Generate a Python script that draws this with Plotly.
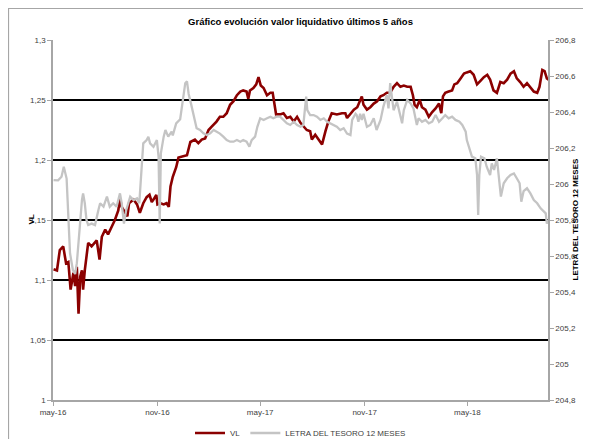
import pandas as pd
import plotly.graph_objects as go

# ---------------- data ----------------
start_date = "2016-05-01"

vl_days = [1, 7, 12, 18, 23, 27, 31, 36, 39, 42,
           45, 48, 51, 53, 56, 62, 68, 74, 77, 82,
           86, 92, 97, 103, 109, 115, 118, 121, 126, 131,
           134, 142, 148, 153, 159, 165, 170, 174, 177, 182,
           184, 189, 195, 200, 204, 207, 211, 217, 221, 230,
           236, 242, 250, 256, 262, 268, 274, 280, 288, 294,
           300, 306, 312, 318, 324, 330, 335, 341, 344, 347,
           353, 358, 362, 366, 371, 377, 383, 387, 390, 393,
           400, 406, 412, 418, 424, 430, 436, 441, 447, 453,
           456, 462, 468, 474, 480, 485, 491, 500, 509, 515,
           518, 524, 530, 536, 541, 544, 547, 553, 559, 565,
           571, 577, 582, 588, 594, 600, 606, 612, 618, 624,
           630, 634, 637, 641, 646, 650, 656, 662, 668, 674,
           680, 684, 687, 691, 697, 703, 707, 712, 718, 724,
           729, 735, 741, 747, 753, 759, 765, 770, 776, 782,
           788, 794, 800, 806, 812, 817, 823, 829, 835, 840,
           847, 853, 857, 862, 866, 870, 873]

vl_values = [1.109, 1.108, 1.125, 1.128, 1.114, 1.115, 1.092, 1.106, 1.095, 1.111,
             1.072, 1.103, 1.108, 1.092, 1.108, 1.131, 1.128, 1.131, 1.133, 1.117,
             1.136, 1.142, 1.138, 1.144, 1.150, 1.158, 1.168, 1.161, 1.157, 1.153,
             1.164, 1.167, 1.163, 1.156, 1.164, 1.169, 1.171, 1.165, 1.167, 1.171,
             1.163, 1.164, 1.163, 1.164, 1.161, 1.178, 1.186, 1.194, 1.202, 1.203,
             1.204, 1.215, 1.217, 1.214, 1.217, 1.218, 1.225, 1.228, 1.232, 1.236,
             1.236, 1.239, 1.246, 1.249, 1.254, 1.257, 1.258, 1.257, 1.251, 1.258,
             1.260, 1.263, 1.269, 1.262, 1.260, 1.254, 1.256, 1.256, 1.247, 1.238,
             1.238, 1.239, 1.235, 1.236, 1.232, 1.236, 1.231, 1.228, 1.225, 1.224,
             1.217, 1.221, 1.217, 1.213, 1.224, 1.232, 1.239, 1.238, 1.239, 1.239,
             1.235, 1.239, 1.242, 1.244, 1.250, 1.253, 1.246, 1.242, 1.244, 1.247,
             1.249, 1.253, 1.254, 1.256, 1.256, 1.261, 1.264, 1.261, 1.262, 1.261,
             1.261, 1.254, 1.246, 1.244, 1.250, 1.244, 1.242, 1.236, 1.240, 1.243,
             1.247, 1.239, 1.253, 1.256, 1.257, 1.258, 1.263, 1.264, 1.268, 1.272,
             1.273, 1.274, 1.271, 1.263, 1.266, 1.269, 1.271, 1.267, 1.258, 1.256,
             1.265, 1.264, 1.267, 1.272, 1.274, 1.268, 1.265, 1.261, 1.264, 1.261,
             1.257, 1.256, 1.261, 1.275, 1.274, 1.268, 1.267]

letra_days = [1, 9, 15, 19, 24, 27, 30, 35, 39, 42,
              45, 48, 51, 53, 56, 59, 62, 68, 74, 80,
              83, 89, 95, 100, 106, 112, 118, 121, 125, 129,
              136, 142, 148, 152, 157, 159, 165, 168, 171, 177,
              183, 186, 188, 190, 195, 198, 203, 209, 211, 217,
              224, 229, 233, 236, 239, 243, 248, 253, 259, 265,
              271, 277, 283, 288, 294, 300, 306, 312, 318, 324,
              330, 335, 341, 346, 350, 356, 360, 365, 371, 377,
              383, 388, 394, 400, 406, 412, 418, 424, 430, 436,
              441, 446, 448, 453, 459, 465, 471, 477, 483, 489,
              494, 500, 506, 512, 518, 524, 527, 533, 535, 538,
              541, 544, 547, 553, 559, 565, 570, 574, 577, 582,
              588, 591, 594, 597, 600, 606, 612, 615, 618, 624,
              630, 635, 641, 644, 650, 656, 662, 668, 674, 680,
              686, 691, 697, 703, 709, 716, 721, 727, 729, 734,
              738, 744, 747, 749, 751, 754, 760, 764, 770, 773,
              777, 782, 785, 789, 794, 800, 806, 812, 817, 822,
              825, 829, 835, 841, 847, 853, 859, 865, 868, 870,
              872]

letra_values = [206.022, 206.020, 206.040, 206.096, 206.030, 205.800, 205.615, 205.522, 205.500, 205.560,
                205.670, 205.820, 205.910, 205.948, 205.893, 205.800, 205.772, 205.780, 205.772, 205.856,
                205.893, 205.874, 205.930, 205.874, 205.893, 205.874, 205.948, 205.893, 205.780, 205.856,
                205.930, 205.911, 205.920, 205.893, 206.115, 206.226, 206.244, 206.263, 206.226, 206.207,
                206.244, 206.152, 205.780, 206.170, 206.263, 206.300, 206.263, 206.291, 206.270, 206.337,
                206.360, 206.485, 206.560, 206.570, 206.500, 206.448, 206.374, 206.310, 206.300, 206.282,
                206.272, 206.282, 206.300, 206.291, 206.280, 206.263, 206.244, 206.235, 206.235, 206.244,
                206.235, 206.244, 206.235, 206.207, 206.244, 206.263, 206.318, 206.365, 206.356, 206.365,
                206.374, 206.365, 206.374, 206.374, 206.356, 206.337, 206.328, 206.346, 206.328, 206.318,
                206.328, 206.485, 206.410, 206.383, 206.383, 206.374, 206.356, 206.365, 206.346, 206.337,
                206.328, 206.318, 206.300, 206.310, 206.280, 206.272, 206.356, 206.390, 206.383, 206.346,
                206.390, 206.356, 206.390, 206.318, 206.328, 206.365, 206.300, 206.328, 206.356, 206.430,
                206.494, 206.420, 206.560, 206.485, 206.410, 206.457, 206.383, 206.337, 206.410, 206.467,
                206.448, 206.420, 206.328, 206.365, 206.346, 206.356, 206.337, 206.346, 206.383, 206.346,
                206.365, 206.383, 206.365, 206.374, 206.356, 206.346, 206.328, 206.291, 206.244, 206.189,
                206.152, 206.143, 206.050, 205.828, 206.050, 206.152, 206.143, 206.096, 206.050, 206.115,
                206.078, 206.143, 206.060, 205.930, 206.004, 206.032, 206.050, 206.059, 206.032, 206.004,
                205.902, 205.960, 205.976, 205.948, 205.911, 205.893, 205.865, 205.846, 205.837, 205.780,
                205.800]

x_tick_dates = ["2016-05-01", "2016-11-01", "2017-05-01", "2017-11-01", "2018-05-01"]
x_tick_labels = ["may-16", "nov-16", "may-17", "nov-17", "may-18"]
x_end_date = "2018-09-20"

y1_ticks = [1.0, 1.05, 1.1, 1.15, 1.2, 1.25, 1.3]
y1_labels = ["1", "1,05", "1,1", "1,15", "1,2", "1,25", "1,3"]
y2_ticks = [204.8, 205.0, 205.2, 205.4, 205.6, 205.8, 206.0, 206.2, 206.4, 206.6, 206.8]
y2_labels = ["204,8", "205", "205,2", "205,4", "205,6", "205,8", "206", "206,2", "206,4", "206,6", "206,8"]

title_text = "Gráfico evolución valor liquidativo últimos 5 años"
y1_title = "VL"
y2_title = "LETRA DEL TESORO 12 MESES"

# ---------------- figure ----------------
base = pd.Timestamp(start_date)
vl_dates = [base + pd.Timedelta(days=d) for d in vl_days]
letra_dates = [base + pd.Timedelta(days=d) for d in letra_days]

# the page body adds an 8px margin, so the figure is drawn at (8, 8)
W, H = 583, 431
L, R, T, B = 45, 43, 32, 39
PW, PH = W - L - R, H - T - B


def px_x(px):  # page pixel x -> paper x
    return (px - 8 - L) / PW


def px_y(py):  # page pixel y -> paper y
    return (H - B - (py - 8)) / PH


FONT = "Liberation Sans, Arial, sans-serif"
TICKC = "#404040"
AXC = "#a6a6a6"
TICKFONT = dict(size=8, color=TICKC)

fig = go.Figure()
fig.add_trace(go.Scatter(x=vl_dates, y=vl_values, name="VL", mode="lines",
                         line=dict(color="#8b0000", width=2.6), yaxis="y"))
fig.add_trace(go.Scatter(x=letra_dates, y=letra_values, name="LETRA DEL TESORO 12 MESES",
                         mode="lines", line=dict(color="#c4c4c4", width=2.3), yaxis="y2"))

fig.update_layout(
    width=W, height=H,
    margin=dict(l=L, r=R, t=T, b=B, autoexpand=False),
    paper_bgcolor="white", plot_bgcolor="white",
    font=dict(family=FONT, size=8, color=TICKC),
    title=dict(text="<b>" + title_text + "</b>", x=0.5, xanchor="center",
               xref="paper", y=1 - (22 - 8) / H, yref="container", yanchor="middle",
               font=dict(size=9.5, color="#000000")),
    xaxis=dict(type="date", range=[start_date, x_end_date],
               tickvals=x_tick_dates, ticktext=x_tick_labels,
               showgrid=False, zeroline=False, showline=True, linecolor=AXC, linewidth=1.5,
               ticks="outside", ticklen=4, tickcolor=AXC, tickfont=TICKFONT),
    yaxis=dict(range=[1.0, 1.3], tickvals=y1_ticks, ticktext=y1_labels,
               showgrid=True, gridcolor="#000000", gridwidth=1.5,
               zeroline=False, showline=True, linecolor=AXC, linewidth=1.5,
               ticks="outside", ticklen=4, tickcolor=AXC, tickfont=TICKFONT),
    yaxis2=dict(range=[204.8, 206.8], tickvals=y2_ticks, ticktext=y2_labels,
                overlaying="y", side="right", showgrid=False, zeroline=False,
                showline=True, linecolor=AXC, linewidth=1.5,
                ticks="outside", ticklen=4, tickcolor=AXC, tickfont=TICKFONT),
    legend=dict(orientation="h", x=0.5, xanchor="center", y=px_y(433), yanchor="middle",
                font=dict(size=8, color=TICKC), itemwidth=30, tracegroupgap=0,
                bgcolor="rgba(0,0,0,0)"),
    showlegend=True,
)

fig.add_annotation(text="<b>" + y1_title + "</b>", xref="paper", yref="paper",
                   x=px_x(24), y=0.5, textangle=-90, showarrow=False,
                   font=dict(size=8, color="#000000"))
fig.add_annotation(text="<b>" + y2_title + "</b>", xref="paper", yref="paper",
                   x=px_x(581), y=0.5, textangle=-90, showarrow=False,
                   font=dict(size=8, color="#000000"))

# outer chart frame
fig.add_shape(type="rect", xref="paper", yref="paper",
              x0=px_x(8.5), x1=px_x(589),
              y0=px_y(450), y1=px_y(8.5),
              line=dict(color="#a6a6a6", width=1.2), fillcolor="rgba(0,0,0,0)", layer="below")

fig.write_html("out.html")
